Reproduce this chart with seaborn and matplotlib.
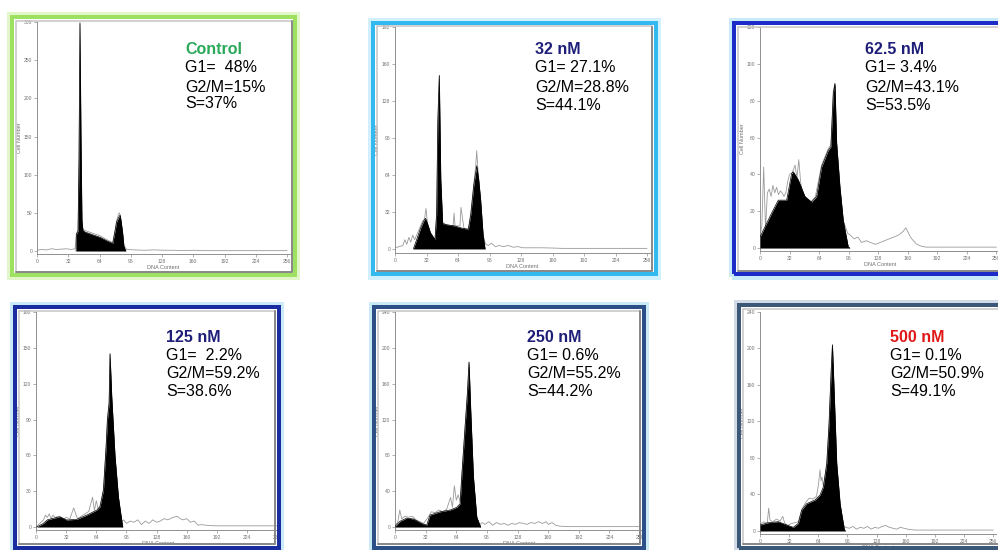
import numpy as np
import pandas as pd
import seaborn as sns
import matplotlib
matplotlib.use("Agg")
import matplotlib.pyplot as plt
from matplotlib.patches import Rectangle

# ---------------- data ----------------
dna_ticks = [0, 32, 64, 96, 128, 160, 192, 224, 256]
panel_titles = ["Control", "32 nM", "62.5 nM", "125 nM", "250 nM", "500 nM"]
g1_text = ["G1=  48%", "G1= 27.1%", "G1= 3.4%", "G1=  2.2%", "G1= 0.6%", "G1= 0.1%"]
g2m_text = ["G2/M=15%", "G2/M=28.8%", "G2/M=43.1%", "G2/M=59.2%", "G2/M=55.2%", "G2/M=50.9%"]
s_text = ["S=37%", "S=44.1%", "S=53.5%", "S=38.6%", "S=44.2%", "S=49.1%"]

ctrl_yticks = [0, 50, 100, 150, 200, 250, 300]
nm32_yticks = [0, 32, 64, 96, 128, 160, 192]
nm62_yticks = [0, 20, 40, 60, 80, 100, 120]
nm125_yticks = [0, 30, 60, 90, 120, 150, 180]
nm250_yticks = [0, 40, 80, 120, 160, 200, 240]
nm500_yticks = [0, 40, 80, 120, 160, 200, 240]

# fitted (black) histograms
ctrl_x = [40, 40.3, 42, 43, 44, 45, 46, 47, 49, 57.6, 64.5, 71.3, 77.5, 80, 81.5, 84, 85, 86, 87.7, 89, 91]
ctrl_y = [0, 22, 26, 120, 298, 150, 40, 27, 25, 21, 18, 13.5, 10, 27, 38, 45, 47, 40, 23, 6, 0]
nm32_x = [18.6, 22, 26, 29, 31, 33, 36, 40.6, 42.3, 43.5, 45, 46.5, 48.4, 52, 60, 68, 74.5, 77, 80, 83, 85, 87, 89.5, 91.5]
nm32_y = [0, 8, 18, 24, 26.5, 22, 14, 8, 30, 110, 150, 60, 22, 21, 20, 18, 17, 30, 55, 72, 60, 42, 12, 0]
nm62_x = [0, 12.6, 19.8, 28.9, 34.3, 36.1, 41.5, 48.7, 55.9, 61.3, 66.7, 73.9, 76.8, 79.4, 81.2, 83, 86.6, 90.2, 95.6, 97.4]
nm62_y = [6, 19, 26, 26, 40.5, 41.4, 37, 28, 25, 28, 44, 53, 55, 84, 89.4, 57, 33, 15, 0.7, 0]
nm125_x = [0.7, 7.8, 12, 18.4, 25.5, 32.6, 43.2, 53.9, 64.5, 68, 71.6, 74.4, 75.8, 77.6, 78.6, 80.4, 83.9, 87.5, 92.1]
nm125_y = [0, 3, 6, 7.3, 8.6, 5.9, 6.4, 10, 14.2, 17, 31, 67, 89.6, 103.6, 145, 109, 59, 25, 0]
nm250_x = [0, 5.2, 12.2, 19.2, 27.9, 33.1, 36.6, 47, 57.5, 64.5, 68, 69.7, 73.2, 75.6, 77.3, 79.1, 81.9, 85.4, 89.5]
nm250_y = [0.6, 6.4, 10, 9, 4, 2.2, 13.4, 17, 19, 22, 26, 56, 112, 149, 184, 130, 56, 11, 0]
nm500_x = [0, 9.2, 20.1, 29.3, 36.6, 42, 45.8, 51.3, 60.4, 65.9, 69.6, 73.3, 75.8, 78, 79.5, 81.3, 84.2, 87.9, 92.7, 94]
nm500_y = [6.6, 9.1, 10.2, 6.6, 4, 8.4, 23, 30, 34, 39.5, 48.6, 74, 118, 173, 204, 155, 74, 30, 0.9, 0]

# raw (grey) traces
ctrl_raw_x = [0, 5, 10, 15, 20, 25, 30, 35, 39, 40.3, 42, 43, 44, 45, 46, 47, 49, 57.6, 64.5, 71.3, 77.5, 80, 81.5, 84, 85, 86, 87.7, 89, 92, 100, 110, 120, 130, 140, 150, 160, 170, 180, 190, 200, 210, 220, 230, 240, 250, 256]
ctrl_raw_y = [1, 2, 1.5, 3, 2, 2.5, 3, 2, 3, 23, 27, 122, 300, 152, 42, 29, 27, 23, 20, 15, 11, 28, 40, 50, 48, 41, 24, 7, 2, 1.5, 1, 1.5, 1, 1, 0.5, 1, 0.5, 0.5, 0.5, 0.5, 0.5, 0.5, 0.5, 0.5, 0.5, 0.5]
nm32_raw_x = [0, 4, 8, 10, 12, 14, 16, 18, 20, 24, 28, 30, 31.5, 33, 36, 40.6, 42.3, 43.5, 45, 46.5, 48.4, 52, 56, 59, 60, 61, 64, 66, 67, 70, 74.5, 77, 80, 82, 83, 84, 85, 87, 89.5, 92, 95, 98, 102, 106, 110, 115, 120, 125, 130, 140, 150, 160, 170, 180, 190, 200, 210, 220, 230, 240, 250, 256]
nm32_raw_y = [1, 2, 3, 8, 4, 10, 6, 12, 8, 16, 24, 26, 35, 22, 14, 8, 31, 112, 150, 62, 23, 21, 20, 20, 31, 20, 20, 20, 36, 18, 17, 31, 56, 72, 85, 72, 61, 43, 12, 4, 3, 5, 2, 3, 2, 3, 1.5, 2, 1, 1, 1, 0.8, 0.5, 0.5, 0.5, 0.5, 0.5, 0.5, 0.5, 0.5, 0.5, 0.5]
nm62_raw_x = [0, 2, 4, 6, 8, 10, 12, 14, 16, 18, 20, 22, 24, 26, 28, 30, 32, 35, 38, 40, 42, 44, 46, 50, 55, 60, 66.7, 73.9, 76.8, 79.4, 81.2, 83, 86.6, 90.2, 95, 98, 102, 106, 110, 115, 120, 125, 130, 135, 140, 145, 150, 155, 158, 160, 163, 166, 170, 175, 180, 190, 200, 210, 220, 230, 240, 256]
nm62_raw_y = [6, 12, 44, 10, 30, 32, 28, 34, 30, 33, 29, 31, 30, 28, 30, 36, 40, 41, 45, 38, 48, 36, 30, 27, 25, 28, 45, 54, 56, 85, 89, 58, 34, 15, 8, 7, 5, 6, 3, 4, 3, 2, 3, 4, 5, 6, 7, 9, 11, 9, 6, 4, 2, 1, 0.5, 0.5, 0.5, 0.5, 0.5, 0.5, 0.5, 0.5]
nm125_raw_x = [0, 4, 8, 10, 12, 14, 16, 18, 20, 24, 28, 32, 36, 40, 44, 48, 52, 56, 60, 62, 64, 66, 68, 70, 71.6, 74.4, 75.8, 77.6, 78.6, 80.4, 83.9, 87.5, 90, 93, 96, 100, 104, 108, 112, 116, 120, 124, 128, 132, 136, 140, 145, 150, 153, 156, 160, 164, 168, 172, 176, 180, 190, 200, 210, 220, 230, 240, 256]
nm125_raw_y = [0, 3, 6, 10, 8, 11, 7, 10, 8, 9, 6, 8, 7, 16, 7, 9, 11, 13, 25, 14, 22, 15, 18, 25, 32, 68, 91, 105, 145, 110, 60, 26, 4, 6, 3, 5, 4, 6, 2, 5, 3, 6, 4, 5, 7, 6, 8, 9, 7, 6, 7, 4, 5, 1.5, 2, 1.5, 1, 1, 1, 1, 1, 1, 1]
nm250_raw_x = [0, 3, 5, 7, 10, 14, 18, 22, 26, 30, 34, 38, 42, 46, 50, 54, 58, 60, 62, 64, 66, 68, 69.7, 73.2, 75.6, 77.3, 79.1, 81.9, 85.4, 88, 91, 94, 98, 102, 106, 110, 114, 118, 122, 126, 130, 134, 138, 142, 146, 150, 154, 158, 160, 164, 168, 172, 180, 190, 200, 210, 220, 230, 240, 256]
nm250_raw_y = [1, 6, 19, 9, 12, 11, 12, 8, 6, 4, 10, 17, 16, 19, 17, 20, 33, 22, 46, 30, 36, 28, 57, 113, 150, 184, 131, 57, 12, 2, 5, 3, 6, 2, 5, 3, 4, 2, 4, 3, 5, 4, 3, 5, 4, 6, 4, 6, 3, 5, 2, 1, 0.5, 0.5, 0.5, 0.5, 0.5, 0.5, 0.5, 0.5]
nm500_raw_x = [0, 4, 8, 9.5, 11, 14, 18, 22, 25, 27, 30, 34, 38, 42, 46, 50, 54, 58, 62, 64, 65.9, 67, 68, 69.6, 73.3, 75.8, 78, 79.5, 81.3, 84.2, 87.9, 90, 94, 98, 102, 106, 110, 114, 118, 122, 126, 130, 134, 138, 142, 146, 150, 154, 158, 162, 166, 170, 180, 190, 200, 210, 220, 230, 240, 256]
nm500_raw_y = [7, 10, 9, 25, 12, 10, 13, 11, 16, 9, 6, 8, 9, 10, 24, 31, 36, 35, 38, 50, 67, 55, 59, 49, 75, 119, 174, 204, 156, 75, 31, 8, 4, 3, 5, 2, 4, 3, 5, 2, 4, 3, 5, 6, 4, 3, 2, 4, 3, 2, 1.5, 1, 1, 1, 1, 1, 1, 1, 1, 1]

fits = [(ctrl_x, ctrl_y), (nm32_x, nm32_y), (nm62_x, nm62_y),
        (nm125_x, nm125_y), (nm250_x, nm250_y), (nm500_x, nm500_y)]
raws = [(ctrl_raw_x, ctrl_raw_y), (nm32_raw_x, nm32_raw_y), (nm62_raw_x, nm62_raw_y),
        (nm125_raw_x, nm125_raw_y), (nm250_raw_x, nm250_raw_y), (nm500_raw_x, nm500_raw_y)]
yticks_all = [ctrl_yticks, nm32_yticks, nm62_yticks, nm125_yticks, nm250_yticks, nm500_yticks]

# ---------------- layout / style (pixels) ----------------
W, H = 998, 550
# axes: left, right, top, bottom (px), xmax, ymin, ymax
axes_px = [
    (37, 290, 22, 254, 259, -3.9, 300),
    (395, 650, 27, 253, 259, -3.5, 192),
    (760, 1000, 27, 251, 260, -1.6, 120),
    (36, 280, 312, 530, 259, -2.5, 180),
    (395, 643, 312, 530, 259, -3.3, 240),
    (760, 996, 312, 534, 259, -3.3, 240),
]
# frame center-line rect: l, t, r, b ; band colour ; glow colour
frames = [
    ((12, 17, 295, 275), "#9ee060", "#cdf2a8"),
    ((372.5, 23, 655.5, 274.5), "#32b9f0", "#b0e6fa"),
    ((734, 23, 1003, 274.5), "#1c2cc8", "#a6dcf6"),
    ((15, 307, 278.5, 548), "#1a2da0", "#a8dcf5"),
    ((374, 307, 643.5, 547.5), "#2b4f86", "#a8dcf0"),
    ((739, 305, 1003, 548), "#3b5878", "#b4c4d4"),
]
bevels = [
    (15.5, 20.5, 291.5, 271.5), (376.5, 26.5, 651.5, 270.5), (738, 27, 999, 270.5),
    (19, 311, 274.5, 544), (378, 311, 639.5, 543.5), (743, 309, 999, 544),
]
text_pos = [  # left x, title y, line ys
    (185, 49, (68, 87, 104)),
    (535, 50, (68, 87, 105)),
    (865, 50, (68, 87, 105)),
    (166, 337, (355, 374, 392)),
    (527, 337, (355, 373, 391)),
    (890, 337, (355, 373, 391)),
]
title_colors = ["#2aa85a", "#1e1e78", "#1e1e78", "#1e1e78", "#1e1e78", "#e01818"]

sns.set_style("white")
plt.rcParams["font.family"] = ["Liberation Sans", "DejaVu Sans"]

fig = plt.figure(figsize=(W / 100, H / 100), dpi=100)
fig.patch.set_facecolor("white")

def px2pt(p):
    return p * 72.0 / 100.0

def frect(l, t, r, b, **kw):
    return Rectangle((l / W, 1 - b / H), (r - l) / W, (b - t) / H,
                     transform=fig.transFigure, fill=False, **kw)

# frames
for (l, t, r, b), band, glow in frames:
    fig.patches.append(frect(l - 2, t - 2, r + 2, b + 2, edgecolor=glow, lw=px2pt(6), alpha=0.6, zorder=0))
    fig.patches.append(frect(l, t, r, b, edgecolor=band, lw=px2pt(4), zorder=0.1))
for (l, t, r, b) in bevels:
    fig.patches.append(frect(l, t, r, b, edgecolor="#c4c4c4", lw=px2pt(1.5), zorder=0.2))
    fig.lines.append(plt.Line2D([r / W, r / W, l / W], [1 - t / H, 1 - b / H, 1 - b / H],
                                transform=fig.transFigure, color="#8a8a8a", lw=px2pt(2), zorder=0.3))

for i in range(6):
    l, r, t, b, xmax, ymin, ymax = axes_px[i]
    ax = fig.add_axes([l / W, 1 - b / H, (r - l) / W, (b - t) / H])
    ax.set_facecolor("none")
    rx, ry = raws[i]
    fx, fy = fits[i]
    raw_df = pd.DataFrame({"DNA Content": rx, "Cell Number": ry})
    fit_df = pd.DataFrame({"DNA Content": fx, "Cell Number": fy})
    sns.lineplot(data=raw_df, x="DNA Content", y="Cell Number", ax=ax, color="#9a9a9a",
                 lw=0.6, estimator=None, sort=False, zorder=2)
    ax.fill_between(fit_df["DNA Content"], fit_df["Cell Number"], 0, color="black", lw=0, zorder=3)
    sns.lineplot(data=fit_df, x="DNA Content", y="Cell Number", ax=ax, color="black",
                 lw=0.5, estimator=None, sort=False, zorder=3)
    ax.set_xlim(0, xmax)
    ax.set_ylim(ymin, ymax)
    ax.set_xticks(dna_ticks)
    ax.set_xticklabels([str(v) for v in dna_ticks])
    ax.set_yticks(yticks_all[i])
    ax.set_yticklabels([str(v) for v in yticks_all[i]])
    for s in ["top", "right"]:
        ax.spines[s].set_visible(False)
    for s in ["left", "bottom"]:
        ax.spines[s].set_color("#909090")
        ax.spines[s].set_linewidth(0.7)
    ax.tick_params(axis="both", length=2, width=0.5, color="#909090",
                   labelsize=3.6, labelcolor="#707070", pad=1.5, left=True, bottom=True)
    ax.set_xlabel("DNA Content", fontsize=4, color="#707070", labelpad=0.5)
    ax.set_ylabel("Cell Number", fontsize=4, color="#707070", labelpad=1.5)
    ax.grid(False)

    tx, ty, lys = text_pos[i]
    fig.text(tx / W, 1 - ty / H, panel_titles[i], fontsize=11.5, fontweight="bold",
             color=title_colors[i], va="center", ha="left")
    for s, yy in zip([g1_text[i], g2m_text[i], s_text[i]], lys):
        fig.text(tx / W, 1 - yy / H, s, fontsize=11.5, color="black", va="center", ha="left")

fig.savefig("out.png", dpi=100, facecolor="white")
